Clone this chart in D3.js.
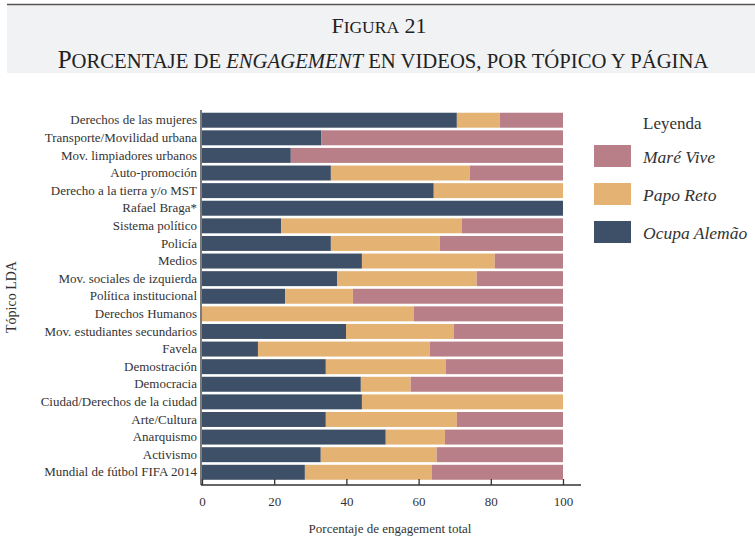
<!DOCTYPE html>
<html>
<head>
<meta charset="utf-8">
<script src="https://cdn.jsdelivr.net/npm/d3@7"></script>
<style>
  body { margin: 0; background: #fff; }
  svg { font-family: "Liberation Serif", "DejaVu Serif", serif; }
</style>
</head>
<body>
<svg id="chart" width="755" height="556"></svg>
<script>
const svg = d3.select("#chart");

// topics, top to bottom
const topics = [
  "Derechos de las mujeres", "Transporte/Movilidad urbana", "Mov. limpiadores urbanos",
  "Auto-promoción", "Derecho a la tierra y/o MST", "Rafael Braga*", "Sistema político",
  "Policía", "Medios", "Mov. sociales de izquierda", "Política institucional",
  "Derechos Humanos", "Mov. estudiantes secundarios", "Favela", "Demostración",
  "Democracia", "Ciudad/Derechos de la ciudad", "Arte/Cultura", "Anarquismo",
  "Activismo", "Mundial de fútbol FIFA 2014"
];
const ocupaAlemao = [70.6, 33, 24.6, 35.7, 64.2, 100, 21.9, 35.7, 44.3, 37.4, 23,
  0, 39.9, 15.5, 34.3, 44, 44.3, 34.3, 50.9, 32.9, 28.5];
const papoReto = [11.9, 0, 0, 38.5, 35.8, 0, 50.1, 30.2, 36.8, 38.7, 18.8,
  58.7, 29.8, 47.6, 33.2, 13.8, 55.7, 36.3, 16.4, 32.1, 35.2];
const mareVive = [17.5, 67, 75.4, 25.8, 0, 0, 28, 34.1, 18.9, 23.9, 58.2,
  41.3, 30.3, 36.9, 32.5, 42.2, 0, 29.4, 32.7, 35, 36.3];
const xTicks = [0, 20, 40, 60, 80, 100];

const series = ["Ocupa Alemão", "Papo Reto", "Maré Vive"];
const colors = { "Ocupa Alemão": "#3e5067", "Papo Reto": "#e4b374", "Maré Vive": "#b87f88" };
const legendOrder = ["Maré Vive", "Papo Reto", "Ocupa Alemão"];

const rows = topics.map((t, i) => ({
  topic: t,
  "Ocupa Alemão": ocupaAlemao[i],
  "Papo Reto": papoReto[i],
  "Maré Vive": mareVive[i]
}));

// title box
svg.append("rect").attr("x", 7).attr("y", 5).attr("width", 748).attr("height", 68).attr("fill", "#f1f2f4");
svg.append("line").attr("x1", 7).attr("x2", 755).attr("y1", 4.5).attr("y2", 4.5)
  .attr("stroke", "#555").attr("stroke-width", 1.5);

const t1 = svg.append("text").attr("x", 379).attr("y", 33).attr("text-anchor", "middle")
  .attr("fill", "#222");
t1.append("tspan").attr("font-size", 22).text("F");
t1.append("tspan").attr("font-size", 17.5).text("IGURA");
t1.append("tspan").attr("font-size", 22).text(" 21");

const t2 = svg.append("text").attr("x", 383).attr("y", 68).attr("text-anchor", "middle")
  .attr("fill", "#222");
t2.append("tspan").attr("font-size", 25).text("P");
t2.append("tspan").attr("font-size", 20.7).text("ORCENTAJE DE ");
t2.append("tspan").attr("font-size", 20.7).attr("font-style", "italic").text("ENGAGEMENT");
t2.append("tspan").attr("font-size", 20.7).text(" EN VIDEOS, POR TÓPICO Y PÁGINA");

// scales
const x = d3.scaleLinear().domain([0, 100]).range([202, 563]);
const y = d3.scaleBand().domain(topics).range([111.5, 481]).paddingInner(0.15).paddingOuter(0.07);

const stack = d3.stack().keys(series)(rows);

svg.append("g")
  .selectAll("g")
  .data(stack)
  .join("g")
  .attr("fill", d => colors[d.key])
  .selectAll("rect")
  .data(d => d)
  .join("rect")
  .attr("x", d => x(d[0]))
  .attr("y", d => y(d.data.topic))
  .attr("width", d => x(d[1]) - x(d[0]))
  .attr("height", y.bandwidth());

// x axis
const xAxis = svg.append("g")
  .attr("transform", "translate(0,485)")
  .call(d3.axisBottom(x).tickValues(xTicks).tickSizeInner(-6).tickSizeOuter(0).tickPadding(12));
xAxis.select(".domain").attr("d", "M201,0H581").attr("stroke", "#333").attr("stroke-width", 1.3);
xAxis.selectAll(".tick line").attr("stroke", "#333").attr("stroke-width", 1.3);
xAxis.selectAll(".tick text").attr("font-family", "Liberation Serif").attr("font-size", 13).attr("fill", "#333");

// y axis
const yAxis = svg.append("g")
  .attr("transform", "translate(201,0)")
  .call(d3.axisLeft(y).tickSize(0).tickPadding(4));
yAxis.select(".domain").attr("d", "M0,110V485").attr("stroke", "#333").attr("stroke-width", 1.3);
yAxis.selectAll(".tick text").attr("font-family", "Liberation Serif").attr("font-size", 13).attr("fill", "#333");

// axis titles
svg.append("text").attr("x", 390).attr("y", 533).attr("text-anchor", "middle")
  .attr("font-size", 13).attr("fill", "#333").text("Porcentaje de engagement total");
svg.append("text").attr("transform", "translate(16,297) rotate(-90)").attr("text-anchor", "middle")
  .attr("font-size", 14).attr("fill", "#333").text("Tópico LDA");

// legend
const legend = svg.append("g");
legend.append("text").attr("x", 643).attr("y", 129).attr("font-size", 17).attr("fill", "#333").text("Leyenda");
const item = legend.selectAll("g.item")
  .data(legendOrder)
  .join("g")
  .attr("class", "item")
  .attr("transform", (d, i) => `translate(594,${145 + i * 38})`);
item.append("rect").attr("width", 37).attr("height", 22).attr("fill", d => colors[d]);
item.append("text").attr("x", 49).attr("y", 18).attr("font-size", 17.5).attr("font-style", "italic")
  .attr("fill", "#333").text(d => d);
</script>
</body>
</html>
